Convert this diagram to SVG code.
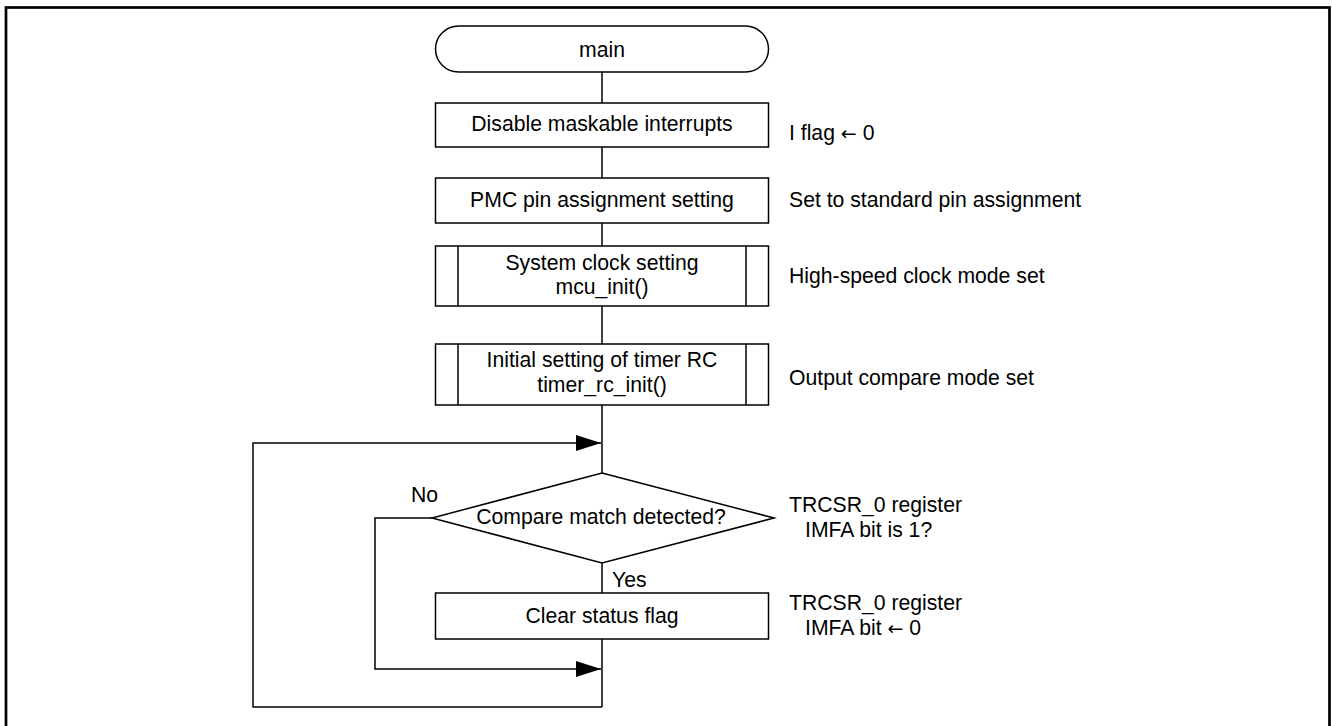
<svg xmlns="http://www.w3.org/2000/svg" width="1332" height="726" viewBox="0 0 1332 726">
<defs>
<style>
.s{fill:#fff;stroke:#000;stroke-width:1.5}
.l{fill:none;stroke:#000;stroke-width:1.5}
text{font-family:"Liberation Sans",Arial,sans-serif;font-size:21.2px;fill:#000}
.c{text-anchor:middle}
.a{font-family:"DejaVu Sans",sans-serif;font-size:19px}
</style>
<marker id="ah" markerWidth="25" markerHeight="16" refX="25" refY="8" orient="auto" markerUnits="userSpaceOnUse">
<path d="M0,0 L25,8 L0,16 Z" fill="#000"/>
</marker>
</defs>
<rect x="0" y="0" width="1332" height="726" fill="#fff"/>
<rect x="6" y="7.5" width="1323.5" height="740" fill="none" stroke="#000" stroke-width="2.7"/>
<g id="connectors">
<line class="l" x1="602" y1="72" x2="602" y2="103"/>
<line class="l" x1="602" y1="147" x2="602" y2="178"/>
<line class="l" x1="602" y1="223" x2="602" y2="246"/>
<line class="l" x1="602" y1="306" x2="602" y2="344"/>
<line class="l" x1="602" y1="405" x2="602" y2="473"/>
<line class="l" x1="602" y1="563" x2="602" y2="593"/>
<line class="l" x1="602" y1="639" x2="602" y2="707"/>
<polyline class="l" points="602,707 253,707 253,443 601,443" marker-end="url(#ah)"/>
<polyline class="l" points="432,518 375,518 375,669 601,669" marker-end="url(#ah)"/>
<text x="411" y="502">No</text>
<text x="612" y="587">Yes</text>
</g>
<g id="n-main">
<rect class="s" x="435.5" y="26" width="333" height="46" rx="23" ry="23"/>
<text class="c" x="602" y="57">main</text>
</g>
<g id="n-disable">
<rect class="s" x="435.5" y="103" width="333" height="44"/>
<text class="c" x="602" y="131">Disable maskable interrupts</text>
<text x="789" y="140">I flag <tspan class="a">←</tspan> 0</text>
</g>
<g id="n-pmc">
<rect class="s" x="435.5" y="178" width="333" height="45"/>
<text class="c" x="602" y="207">PMC pin assignment setting</text>
<text x="789" y="207">Set to standard pin assignment</text>
</g>
<g id="n-clock">
<rect class="s" x="435.5" y="246" width="333" height="60"/>
<line class="l" x1="458" y1="246" x2="458" y2="306"/>
<line class="l" x1="746" y1="246" x2="746" y2="306"/>
<text class="c" x="602" y="270">System clock setting</text>
<text class="c" x="602" y="294">mcu_init()</text>
<text x="789" y="283">High-speed clock mode set</text>
</g>
<g id="n-timer">
<rect class="s" x="435.5" y="344" width="333" height="61"/>
<line class="l" x1="458" y1="344" x2="458" y2="405"/>
<line class="l" x1="746" y1="344" x2="746" y2="405"/>
<text class="c" x="602" y="367">Initial setting of timer RC</text>
<text class="c" x="602" y="392">timer_rc_init()</text>
<text x="789" y="385">Output compare mode set</text>
</g>
<g id="n-decision">
<polygon class="s" points="602,473 774,518 602,563 432,518"/>
<text class="c" x="601" y="524">Compare match detected?</text>
<text x="789" y="512">TRCSR_0 register</text>
<text x="805" y="537">IMFA bit is 1?</text>
</g>
<g id="n-clear">
<rect class="s" x="435.5" y="593" width="333" height="46"/>
<text class="c" x="602" y="623">Clear status flag</text>
<text x="789" y="610">TRCSR_0 register</text>
<text x="805" y="635">IMFA bit <tspan class="a">←</tspan> 0</text>
</g>
</svg>
